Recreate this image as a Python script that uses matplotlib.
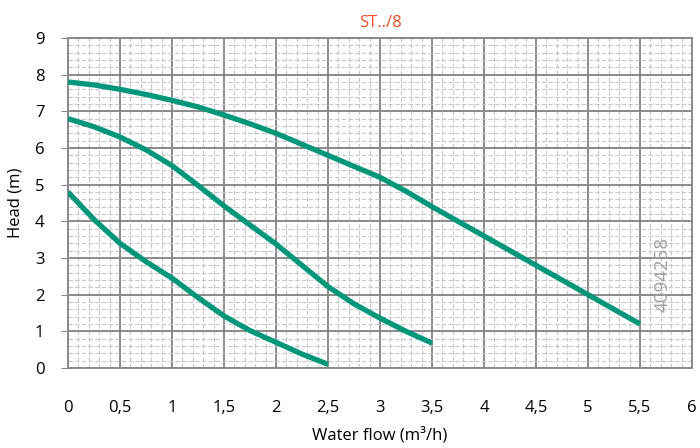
import numpy as np
import matplotlib
matplotlib.use("Agg")
import matplotlib.pyplot as plt
from matplotlib.ticker import MultipleLocator, FuncFormatter

#------------------------------- data
flow_hi = [0, 0.25, 0.5, 0.75, 1, 1.25, 1.5, 1.75, 2, 2.25, 2.5, 2.75, 3,
           3.25, 3.5, 3.75, 4, 4.25, 4.5, 4.75, 5, 5.25, 5.5]
head_hi = [7.8, 7.72, 7.6, 7.46, 7.3, 7.12, 6.9, 6.66, 6.4, 6.1, 5.8, 5.5, 5.2,
           4.82, 4.4, 4.0, 3.6, 3.2, 2.8, 2.4, 2.0, 1.6, 1.2]

flow_mid = [0, 0.25, 0.5, 0.75, 1, 1.25, 1.5, 1.75, 2, 2.25, 2.5, 2.75, 3, 3.25, 3.5]
head_mid = [6.8, 6.58, 6.3, 5.95, 5.52, 4.98, 4.42, 3.9, 3.38, 2.8, 2.22, 1.75, 1.36, 1.0, 0.68]

flow_lo = [0, 0.25, 0.5, 0.75, 1, 1.25, 1.5, 1.75, 2, 2.25, 2.5]
head_lo = [4.8, 4.05, 3.4, 2.9, 2.45, 1.92, 1.42, 1.02, 0.7, 0.38, 0.1]

title = "ST../8"
code = "4094258"

#------------------------------- figure
plt.rcParams['font.family'] = ['Open Sans', 'DejaVu Sans']
fig = plt.figure(figsize=(7, 4.48), dpi=100)
ax = fig.add_axes([68 / 700, 1 - 368 / 448, 624 / 700, 330 / 448])

green = '#00967a'
for fx, hy in [(flow_hi, head_hi), (flow_mid, head_mid), (flow_lo, head_lo)]:
    ax.plot(fx, hy, color=green, lw=3.8, solid_capstyle='butt',
            solid_joinstyle='round', zorder=3)

ax.set_xlim(0, 6)
ax.set_ylim(0, 9)
ax.xaxis.set_major_locator(MultipleLocator(0.5))
ax.yaxis.set_major_locator(MultipleLocator(1))
ax.xaxis.set_minor_locator(MultipleLocator(0.1))
ax.yaxis.set_minor_locator(MultipleLocator(0.2))
ax.xaxis.set_major_formatter(FuncFormatter(lambda v, p: ('%g' % v).replace('.', ',')))

ax.grid(which='minor', color='#c8c8c8', lw=0.8, ls=(0, (4, 2)), zorder=1)
ax.grid(which='major', color='#8a8a8a', lw=1.4, zorder=2)
for s in ax.spines.values():
    s.set_color('#8a8a8a')
    s.set_linewidth(1.4)

ax.tick_params(which='minor', length=0)
ax.tick_params(axis='y', which='major', length=5, color='#8a8a8a', labelsize=12, pad=12)
ax.tick_params(axis='x', which='major', length=0, labelsize=12, pad=23)

ax.set_xlabel('Water flow (m³/h)', fontsize=12, labelpad=8)
ax.set_ylabel('Head (m)', fontsize=12, labelpad=8)
ax.set_title(title, color='#f04e23', fontsize=12, pad=8)

ax.text(5.72, 2.55, code, rotation=90, color='#a0a0a0', fontsize=13.5,
        ha='center', va='center', zorder=4)

fig.savefig('out.png', dpi=100)
